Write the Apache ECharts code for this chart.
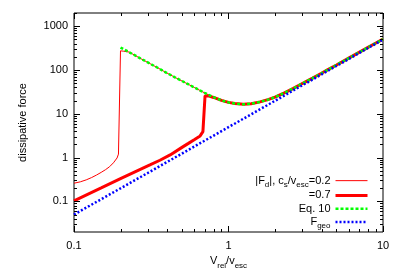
<!DOCTYPE html>
<html>
<head>
<meta charset="utf-8">
<script src="https://cdn.jsdelivr.net/npm/echarts@6/dist/echarts.min.js"></script>
<style>html,body{margin:0;padding:0;background:#fff}#c{width:399px;height:279px}</style>
</head>
<body>
<div id="c"></div>
<script>
// ---- data ----
const thin02V = [0.1, 0.11, 0.12, 0.13, 0.14, 0.15, 0.16, 0.17, 0.18, 0.19, 0.194, 0.2, 0.21, 0.228, 0.25, 0.28, 0.31, 0.35, 0.4, 0.45, 0.5, 0.6, 0.7, 0.8, 0.9, 1.0, 1.1, 1.25, 1.4, 1.6, 1.8, 2.0, 2.3, 2.63, 3.0, 3.5, 4.0, 4.34, 5.0, 6.0, 7.0, 8.0, 9.0, 10];
const thin02F = [0.26, 0.28, 0.31, 0.35, 0.4, 0.46, 0.53, 0.62, 0.76, 0.98, 1.2, 274, 268, 256, 212, 170, 140, 111, 85, 68, 56, 40, 30, 24, 20.3, 18.2, 17.1, 16.5, 17, 18.7, 21, 24, 30, 38, 49, 65, 84, 99, 130, 186, 252, 328, 412, 505];

const thick07V = [0.1, 0.15, 0.2, 0.25, 0.31, 0.36, 0.419, 0.5, 0.55, 0.6, 0.655, 0.683, 0.705, 0.75, 0.8, 0.85, 0.9, 1.0, 1.1, 1.25, 1.4, 1.6, 1.8, 2.0, 2.3, 2.63, 3.0, 3.5, 4.0, 4.34, 5.0, 6.0, 7.0, 8.0, 9.0, 10];
const thick07F = [0.103, 0.203, 0.33, 0.48, 0.68, 0.87, 1.15, 1.71, 2.11, 2.56, 3.12, 3.9, 25.8, 25.3, 23.6, 21.9, 20.3, 18.2, 17.1, 16.5, 17, 18.7, 21, 24, 30, 38, 49, 65, 84, 99, 130, 186, 252, 328, 412, 505];

const eq10V = [0.2, 0.22, 0.25, 0.28, 0.31, 0.35, 0.4, 0.45, 0.5, 0.6, 0.7, 0.8, 0.9, 1.0, 1.1, 1.25, 1.4, 1.6, 1.8, 2.0, 2.3, 2.63, 3.0, 3.5, 4.0, 4.34, 5.0, 6.0, 7.0, 8.0, 9.0, 10];
const eq10F = [325, 272, 212, 170, 140, 111, 85, 68, 56, 40, 30, 24, 20.3, 18.2, 17.1, 16.5, 17, 18.7, 21, 24, 30, 38, 49, 65, 84, 99, 130, 186, 252, 328, 412, 505];

const geoV = [0.1, 0.3, 1, 3, 10];
const geoF = [0.05, 0.445, 4.95, 44.5, 495];

const xTickMajor = [0.1, 1, 10];
const yTickMajor = [0.1, 1, 10, 100, 1000];
const xTickMinor = [0.2, 0.3, 0.4, 0.5, 0.6, 0.7, 0.8, 0.9, 2, 3, 4, 5, 6, 7, 8, 9];
const yTickMinor = [0.03, 0.04, 0.05, 0.06, 0.07, 0.08, 0.09, 0.2, 0.3, 0.4, 0.5, 0.6, 0.7, 0.8, 0.9,
  2, 3, 4, 5, 6, 7, 8, 9, 20, 30, 40, 50, 60, 70, 80, 90, 200, 300, 400, 500, 600, 700, 800, 900, 2000];

const legendNames = {
  Fd02: '|F{s|d}|, c{s|s}/v{s|esc}=0.2',
  Fd07: '=0.7',
  eq10: 'Eq. 10',
  Fgeo: 'F{s|geo}'
};

// ---- build ----
const zip = (a, b) => a.map((v, i) => [v, b[i]]);
const FONT = 'Liberation Sans';
const tickData = [];
xTickMajor.forEach(v => tickData.push([v, 1, 1, 0]));
xTickMinor.forEach(v => tickData.push([v, 1, 0, 0]));
yTickMajor.forEach(v => tickData.push([1, v, 1, 1]));
yTickMinor.forEach(v => tickData.push([1, v, 0, 1]));

function renderTick(params, api) {
  const cs = params.coordSys;
  const major = api.value(2), dir = api.value(3);
  const len = major ? 6 : 3;
  const L = cs.x, R = cs.x + cs.width, T = cs.y, B = cs.y + cs.height;
  const st = { stroke: '#000', lineWidth: 1 };
  if (dir === 0) {
    const x = Math.round(api.coord([api.value(0), 1])[0]) + 0.5;
    return { type: 'group', children: [
      { type: 'line', shape: { x1: x, y1: B, x2: x, y2: B - len }, style: st },
      { type: 'line', shape: { x1: x, y1: T, x2: x, y2: T + len }, style: st }
    ]};
  }
  const y = Math.round(api.coord([1, api.value(1)])[1]) + 0.5;
  return { type: 'group', children: [
    { type: 'line', shape: { x1: L, y1: y, x2: L + len, y2: y }, style: st },
    { type: 'line', shape: { x1: R, y1: y, x2: R - len, y2: y }, style: st }
  ]};
}

const powLabel = v => {
  const l = Math.log10(v);
  if (Math.abs(l - Math.round(l)) > 1e-6) return '';
  return String(+v.toPrecision(3));
};

const chart = echarts.init(document.getElementById('c'), null, { renderer: 'canvas' });
chart.setOption({
  animation: false,
  backgroundColor: '#fff',
  textStyle: { fontFamily: FONT },
  grid: { left: 74, right: 16, top: 13, bottom: 47, show: true, borderColor: '#000', borderWidth: 1, outerBoundsMode: 'none' },
  xAxis: {
    type: 'log', logBase: 10, min: 0.1, max: 10,
    axisLine: { show: false }, axisTick: { show: false }, splitLine: { show: false }, minorTick: { show: false },
    axisLabel: { formatter: powLabel, color: '#000', fontFamily: FONT, fontSize: 11, margin: 8 },
    name: 'V{s|rel}/v{s|esc}', nameLocation: 'middle', nameGap: 19,
    nameTextStyle: { color: '#000', fontFamily: FONT, fontSize: 11,
      rich: { s: { fontFamily: FONT, fontSize: 8, color: '#000', verticalAlign: 'bottom', padding: [0, 0, -3, 0] } } }
  },
  yAxis: {
    type: 'log', logBase: 10, min: 0.02, max: 2000,
    axisLine: { show: false }, axisTick: { show: false }, splitLine: { show: false }, minorTick: { show: false },
    axisLabel: { formatter: powLabel, color: '#000', fontFamily: FONT, fontSize: 11, margin: 6, showMinLabel: false, showMaxLabel: false },
    name: 'dissipative force', nameLocation: 'middle', nameGap: 46, nameRotate: 90,
    nameTextStyle: { color: '#000', fontFamily: FONT, fontSize: 11 }
  },
  legend: {
    orient: 'vertical', align: 'right', right: 30, top: 174, padding: 0,
    itemWidth: 32, itemHeight: 8, itemGap: 0,
    itemStyle: { opacity: 0 },
    lineStyle: { width: 'inherit' },
    data: [
      { name: 'Fd02', lineStyle: { width: 1 } },
      { name: 'Fd07', lineStyle: { width: 3 } },
      { name: 'eq10', lineStyle: { width: 2.5 } },
      { name: 'Fgeo', lineStyle: { width: 2.5 } }
    ],
    formatter: n => legendNames[n],
    textStyle: { color: '#000', fontFamily: FONT, fontSize: 11, lineHeight: 13.3,
      rich: { s: { fontFamily: FONT, fontSize: 8, color: '#000', lineHeight: 13.3, verticalAlign: 'bottom', padding: [0, 0, -1.5, 0] } } }
  },
  series: [
    { name: 'Fd02', type: 'line', data: zip(thin02V, thin02F), symbol: 'none', showSymbol: false,
      lineStyle: { color: '#ff0000', width: 1 }, itemStyle: { color: '#ff0000' } },
    { name: 'Fd07', type: 'line', data: zip(thick07V, thick07F), symbol: 'none', showSymbol: false,
      lineStyle: { color: '#ff0000', width: 3 }, itemStyle: { color: '#ff0000' } },
    { name: 'eq10', type: 'line', data: zip(eq10V, eq10F), symbol: 'none', showSymbol: false,
      lineStyle: { color: '#00ff00', width: 2.5, type: [3, 2] }, itemStyle: { color: '#00ff00' } },
    { name: 'Fgeo', type: 'line', data: zip(geoV, geoF), symbol: 'none', showSymbol: false,
      lineStyle: { color: '#0000ff', width: 2.5, type: [2, 2] }, itemStyle: { color: '#0000ff' } },
    { name: 'ticks', type: 'custom', renderItem: renderTick, data: tickData, silent: true,
      encode: { x: 0, y: 1 }, clip: false, z: 10 }
  ]
});
</script>
</body>
</html>
